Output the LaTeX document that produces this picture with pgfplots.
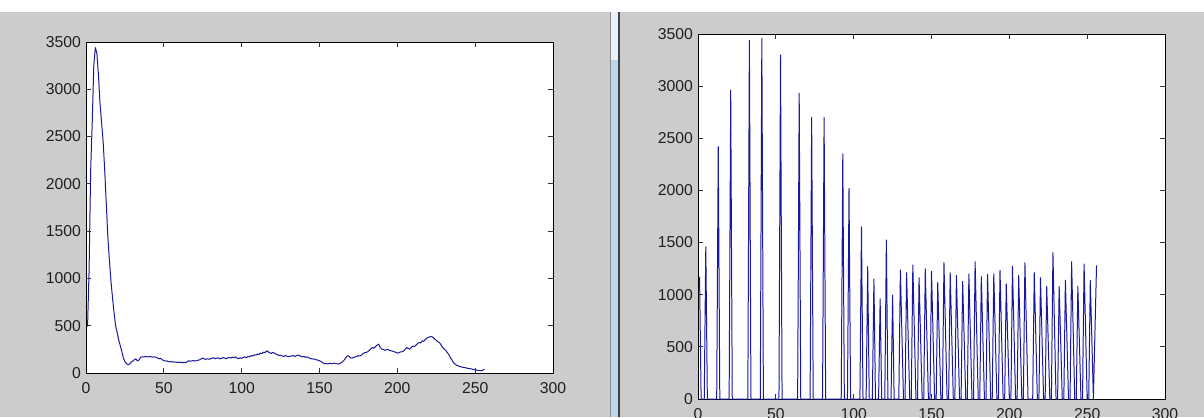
\documentclass[border=0pt]{standalone}
\usepackage{pgfplots}
\pgfplotsset{compat=1.18}
\usepackage{fontspec}
\setmainfont{Liberation Sans}
\definecolor{bg}{RGB}{204,204,204}
\definecolor{mblue}{RGB}{24,24,160}
\definecolor{divblue}{RGB}{188,214,238}
\pgfplotsset{
  mlab/.style={
    scale only axis,
    xmin=0, xmax=300, ymin=0, ymax=3500,
    xtick={0,50,...,300}, ytick={0,500,...,3500},
    tick align=inside, major tick length=5bp,
    axis background/.style={fill=white},
    axis line style={black, line width=1bp},
    tick style={black!80, line width=0.9bp},
    ticklabel style={font=\fontsize{15.8}{17}\selectfont, text=black!88, inner sep=0pt},
    xticklabel style={anchor=north, yshift=-9bp},
    yticklabel style={anchor=east, xshift=-5bp},
    scaled ticks=false,
    /pgf/number format/assume math mode=true,
    /pgf/number format/1000 sep={},
  }
}
\begin{document}
\begin{tikzpicture}[x=1bp,y=1bp]
\useasboundingbox (0,0) rectangle (1204,417);
\fill[bg] (0,0) rectangle (1204,417);
\fill[white] (0,405) rectangle (1204,417);
\fill[divblue] (611,0) rectangle (618,357);
\fill[white!65!divblue] (611,357) rectangle (618,405);
\draw[black!45, line width=1bp] (610.5,0) -- (610.5,405);
\draw[black!75, line width=1.5bp] (619,0) -- (619,405);

\begin{axis}[mlab, at={(86bp,44bp)}, anchor=south west, width=467bp, height=331bp]
\addplot[draw=mblue, line width=1pt, line join=round, mark=none] table[x=x,y=y] {
x y
1 490
2 1100
3 2150
4 2650
5 3250
6 3440
7 3380
8 3150
9 2850
10 2650
11 2450
12 2150
13 1800
14 1450
15 1200
16 980
17 800
18 640
19 500
20 430
21 350
22 290
23 230
24 160
25 120
26 100
27 88
28 95
29 115
30 125
31 140
32 150
33 128
34 135
35 165
36 172
37 170
38 175
39 172
40 170
41 174
42 170
43 168
44 172
45 165
46 158
47 150
48 155
49 140
50 132
51 125
52 128
53 120
54 118
55 122
56 115
57 118
58 112
59 116
60 110
61 115
62 108
63 112
64 110
65 118
66 130
67 125
68 128
69 132
70 126
71 130
72 135
73 140
74 150
75 158
76 148
77 145
78 150
79 146
80 150
81 155
82 162
83 150
84 158
85 160
86 150
87 155
88 162
89 158
90 150
91 160
92 165
93 158
94 168
95 162
96 170
97 158
98 152
99 160
100 155
101 165
102 172
103 160
104 175
105 170
106 185
107 178
108 192
109 188
110 200
111 195
112 210
113 205
114 220
115 215
116 235
117 225
118 215
119 205
120 220
121 210
122 200
123 195
124 185
125 190
126 180
127 175
128 185
129 178
130 172
131 176
132 180
133 185
134 175
135 182
136 190
137 185
138 178
139 170
140 175
141 165
142 172
143 160
144 155
145 150
146 148
147 145
148 140
149 135
150 130
151 120
152 110
153 98
154 102
155 95
156 100
157 102
158 98
159 105
160 100
161 98
162 95
163 100
164 110
165 122
166 140
167 165
168 183
169 175
170 160
171 158
172 165
173 170
174 175
175 183
176 180
177 190
178 205
179 215
180 218
181 225
182 240
183 255
184 270
185 262
186 280
187 295
188 305
189 270
190 253
191 248
192 240
193 246
194 250
195 238
196 235
197 230
198 225
199 218
200 211
201 215
202 222
203 225
204 232
205 250
206 270
207 258
208 253
209 270
210 285
211 280
212 295
213 310
214 323
215 318
216 341
217 335
218 355
219 369
220 378
221 382
222 386
223 375
224 358
225 345
226 330
227 323
228 300
229 270
230 255
231 240
232 218
233 195
234 165
235 140
236 112
237 95
238 82
239 77
240 70
241 65
242 60
243 58
244 55
245 50
246 49
247 45
248 40
249 38
250 32
251 30
252 28
253 25
254 24
255 30
256 42
};
\end{axis}

\begin{axis}[mlab, at={(698bp,18bp)}, anchor=south west, width=467bp, height=365bp]
\addplot[draw=mblue, line width=1pt, line join=round, mark=none] coordinates {
(1,1170) (2,0) (4,0) (5,1460) (6,0) (12,0) (13,2420) (14,0)
(20,0) (21,2960) (22,0) (32,0) (33,3440) (34,0) (40,0) (41,3460) (42,0)
(52,0) (53,3300) (54,0) (64,0) (65,2930) (66,0) (72,0) (73,2700) (74,0)
(80,0) (81,2700) (82,0) (92,0) (93,2350) (94,0) (96,0) (97,2020) (98,0)
(104,0) (105,1650) (106,0) (108,0) (109,1270) (110,0) (112,0) (113,1150) (114,0)
(116,0) (117,960) (118,0) (120,0) (121,1525) (122,0) (124,0) (125,997) (126,0)
(129,0) (130,1237) (131,615) (132,0)
(133,0) (134,1211) (135,600) (136,0)
(137,0) (138,1285) (139,645) (140,0)
(141,0) (142,1163) (143,575) (144,0)
(145,0) (146,1247) (147,620) (148,0)
(149,0) (150,1224) (151,610) (152,0)
(153,0) (154,1115) (155,560) (156,0)
(157,0) (158,1307) (159,650) (160,0)
(161,0) (162,1211) (163,605) (164,0)
(165,0) (166,1186) (167,590) (168,0)
(169,0) (170,1128) (171,565) (172,0)
(173,0) (174,1199) (175,600) (176,0)
(177,0) (178,1317) (179,660) (180,0)
(181,0) (182,1173) (183,585) (184,0)
(185,0) (186,1196) (187,600) (188,0)
(189,0) (190,1199) (191,595) (192,0)
(193,0) (194,1234) (195,615) (196,0)
(197,0) (198,1103) (199,550) (200,0)
(201,0) (202,1272) (203,640) (204,0)
(205,0) (206,1186) (207,590) (208,0)
(209,0) (210,1307) (211,655) (212,0)
(215,0) (216,1211) (217,605) (218,0)
(219,0) (220,1163) (221,580) (222,0)
(223,0) (224,1080) (225,540) (226,0)
(227,0) (228,1403) (229,700) (230,0)
(231,0) (232,1080) (233,545) (234,0)
(235,0) (236,1138) (237,570) (238,0)
(239,0) (240,1317) (241,660) (242,0)
(243,0) (244,1080) (245,540) (246,0)
(247,0) (248,1294) (249,645) (250,0)
(251,0) (252,1138) (253,570) (254,0)
(255,650) (256,1282)
};
\end{axis}
\end{tikzpicture}
\end{document}
